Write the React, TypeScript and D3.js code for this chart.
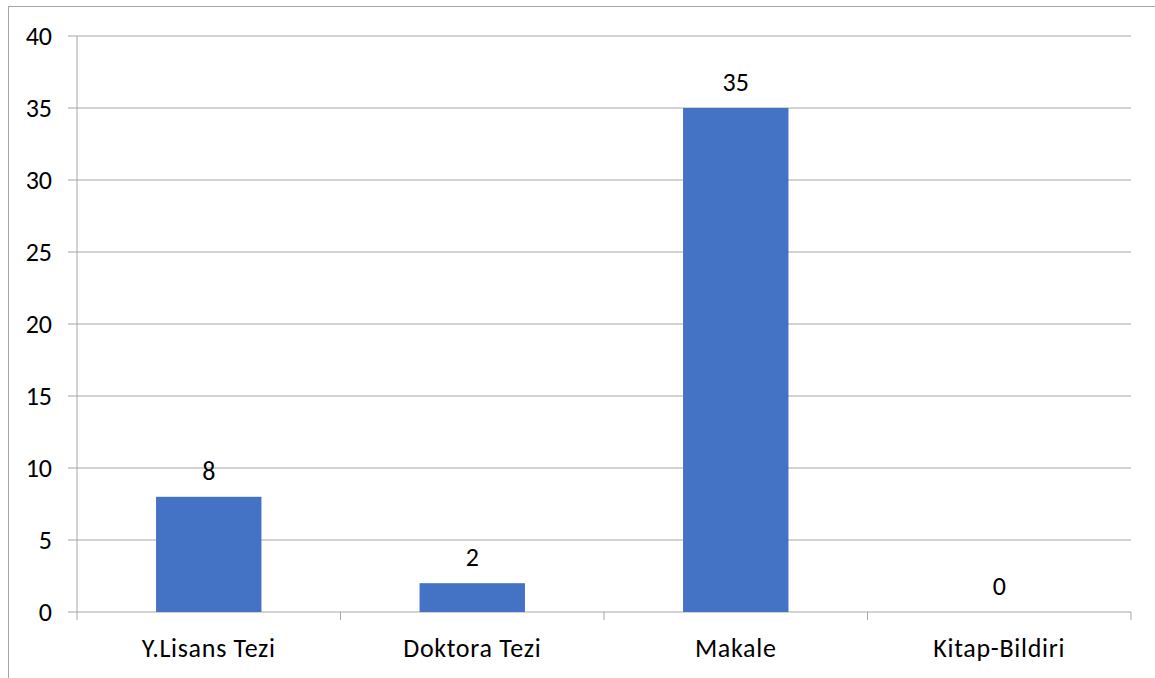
import React from "react";
import * as d3 from "d3";

const categories = ["Y.Lisans Tezi", "Doktora Tezi", "Makale", "Kitap-Bildiri"];
const values = [8, 2, 35, 0];
const yTicks = [0, 5, 10, 15, 20, 25, 30, 35, 40];

const W = 1155, H = 678;
const left = 77, right = 1131, top = 36, bottom = 612;
const font = "Carlito, Calibri, Lato, 'Open Sans', sans-serif";

export default function App() {
  const band = d3.scaleBand<string>().domain(categories).range([left, right]);
  const y = d3.scaleLinear().domain([0, 40]).range([bottom, top]);
  const grid = "#A6A6A6";
  return (
    <svg width={W} height={H} style={{ position: "absolute", left: 0, top: 0 }} fontFamily={font}>
      <rect x={0} y={0} width={W} height={H} fill="#fff" />
      <rect x={8.5} y={6.5} width={W + 10} height={H + 10} fill="none" stroke="#A6A6A6" strokeWidth={1} />
      {yTicks.map((t) => (
        <g key={t}>
          <line x1={left - 9} x2={right} y1={y(t)} y2={y(t)} stroke={grid} strokeWidth={1} />
          <text x={52} y={y(t)} dy="0.35em" textAnchor="end" fontSize={26} fill="#000">{t}</text>
        </g>
      ))}
      <line x1={left} x2={left} y1={top} y2={bottom + 8} stroke={grid} strokeWidth={1} />
      {categories.map((c) => (
        <line key={c + "t"} x1={(band(c) as number) + band.bandwidth()} x2={(band(c) as number) + band.bandwidth()} y1={bottom} y2={bottom + 8} stroke={grid} strokeWidth={1} />
      ))}
      {categories.map((c, i) => {
        const cx = (band(c) as number) + band.bandwidth() / 2;
        const bw = band.bandwidth() / 2.5;
        return (
          <g key={c}>
            <rect x={cx - bw / 2} y={y(values[i])} width={bw} height={bottom - y(values[i])} fill="#4472C4" />
            <text x={cx} y={y(values[i]) - 17} textAnchor="middle" fontSize={26} fill="#000">{values[i]}</text>
            <text x={cx} y={657} textAnchor="middle" fontSize={26} letterSpacing={0.7} fill="#000">{c}</text>
          </g>
        );
      })}
    </svg>
  );
}
